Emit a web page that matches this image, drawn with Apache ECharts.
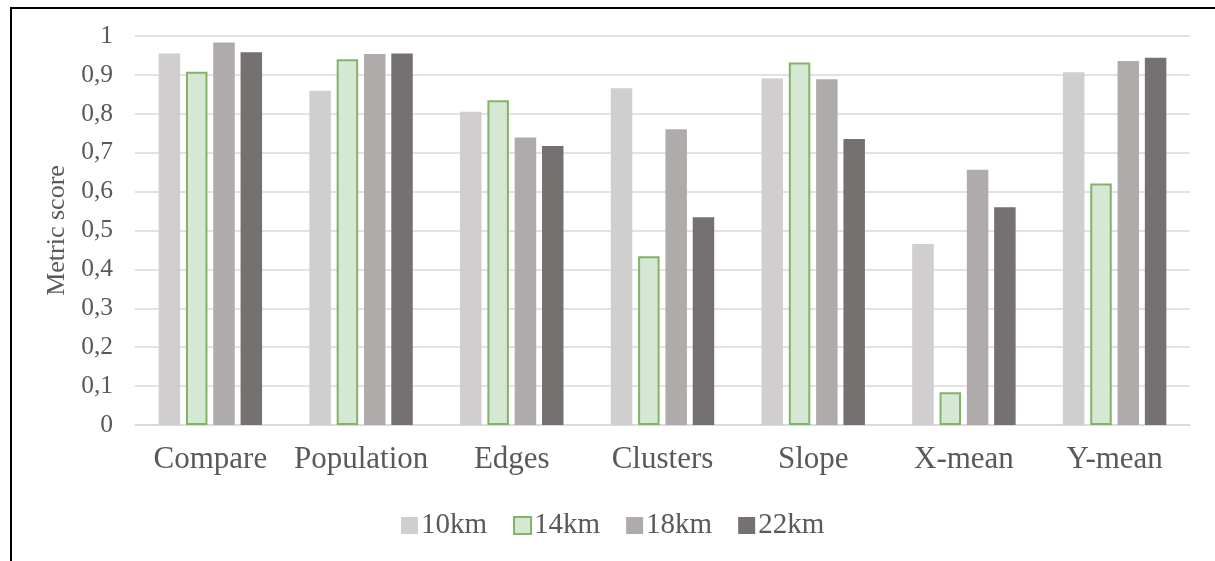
<!DOCTYPE html>
<html>
<head>
<meta charset="utf-8">
<script src="https://cdn.jsdelivr.net/npm/echarts@6/dist/echarts.min.js"></script>
<style>
  html, body { margin: 0; padding: 0; background: #fff; }
  #wrap { position: relative; width: 1215px; height: 561px; overflow: hidden; }
  #chart { position: absolute; left: 0; top: 0; width: 1215px; height: 561px; }
  #frame { position: absolute; left: 10px; top: 7px; width: 1300px; height: 700px;
           border-top: 2px solid #000; border-left: 2px solid #000; pointer-events: none; }
</style>
</head>
<body>
<div id="wrap">
  <div id="chart"></div>
  <div id="frame"></div>
</div>
<script>
// Metric scores per test case for four grid resolutions
const categories = ['Compare', 'Population', 'Edges', 'Clusters', 'Slope', 'X-mean', 'Y-mean'];
const seriesNames = ['10km', '14km', '18km', '22km'];
const values10km = [0.955, 0.859, 0.805, 0.866, 0.891, 0.465, 0.907];
const values14km = [0.908, 0.940, 0.835, 0.434, 0.932, 0.084, 0.621];
const values18km = [0.983, 0.954, 0.739, 0.760, 0.889, 0.656, 0.936];
const values22km = [0.958, 0.955, 0.717, 0.534, 0.735, 0.560, 0.944];
const yTickLabels = ['0', '0,1', '0,2', '0,3', '0,4', '0,5', '0,6', '0,7', '0,8', '0,9', '1'];

const FONT = '"Liberation Serif", "DejaVu Serif", serif';
const TEXT = '#595959';

const styles = [
  { color: '#d0cece' },
  { color: '#d5e8d4', borderColor: '#82b366', borderWidth: 2 },
  { color: '#afabab' },
  { color: '#767171' }
];
const allValues = [values10km, values14km, values18km, values22km];

const chart = echarts.init(document.getElementById('chart'), null, { renderer: 'canvas' });
chart.setOption({
  animation: false,
  backgroundColor: 'transparent',
  textStyle: { fontFamily: FONT, color: TEXT },
  grid: { left: 135, right: 25, top: 36, bottom: 136, containLabel: false },
  legend: {
    left: 396,
    top: 506,
    itemWidth: 17,
    itemHeight: 17,
    itemGap: 26,
    icon: 'rect',
    textStyle: { fontFamily: FONT, fontSize: 29, color: TEXT, padding: [0, 0, 0, -2] },
    data: seriesNames
  },
  xAxis: {
    type: 'category',
    data: categories,
    axisLine: { show: true, lineStyle: { color: '#d9d9d9', width: 1.5 } },
    axisTick: { show: false },
    axisLabel: { interval: 0, fontFamily: FONT, fontSize: 31, color: TEXT, margin: 19 }
  },
  yAxis: {
    type: 'value',
    min: 0,
    max: 1,
    interval: 0.1,
    name: 'Metric score',
    nameLocation: 'middle',
    nameGap: 65,
    nameTextStyle: { fontFamily: FONT, fontSize: 26, color: TEXT },
    axisLine: { show: false },
    axisTick: { show: false },
    splitLine: { lineStyle: { color: '#d9d9d9', width: 1.5 } },
    axisLabel: {
      fontFamily: FONT, fontSize: 25.5, color: TEXT, margin: 22,
      formatter: v => yTickLabels[Math.round(v * 10)]
    }
  },
  series: seriesNames.map((name, i) => ({
    name,
    type: 'bar',
    data: allValues[i],
    barWidth: 21.5,
    barGap: '27%',
    itemStyle: styles[i]
  }))
});
</script>
</body>
</html>
